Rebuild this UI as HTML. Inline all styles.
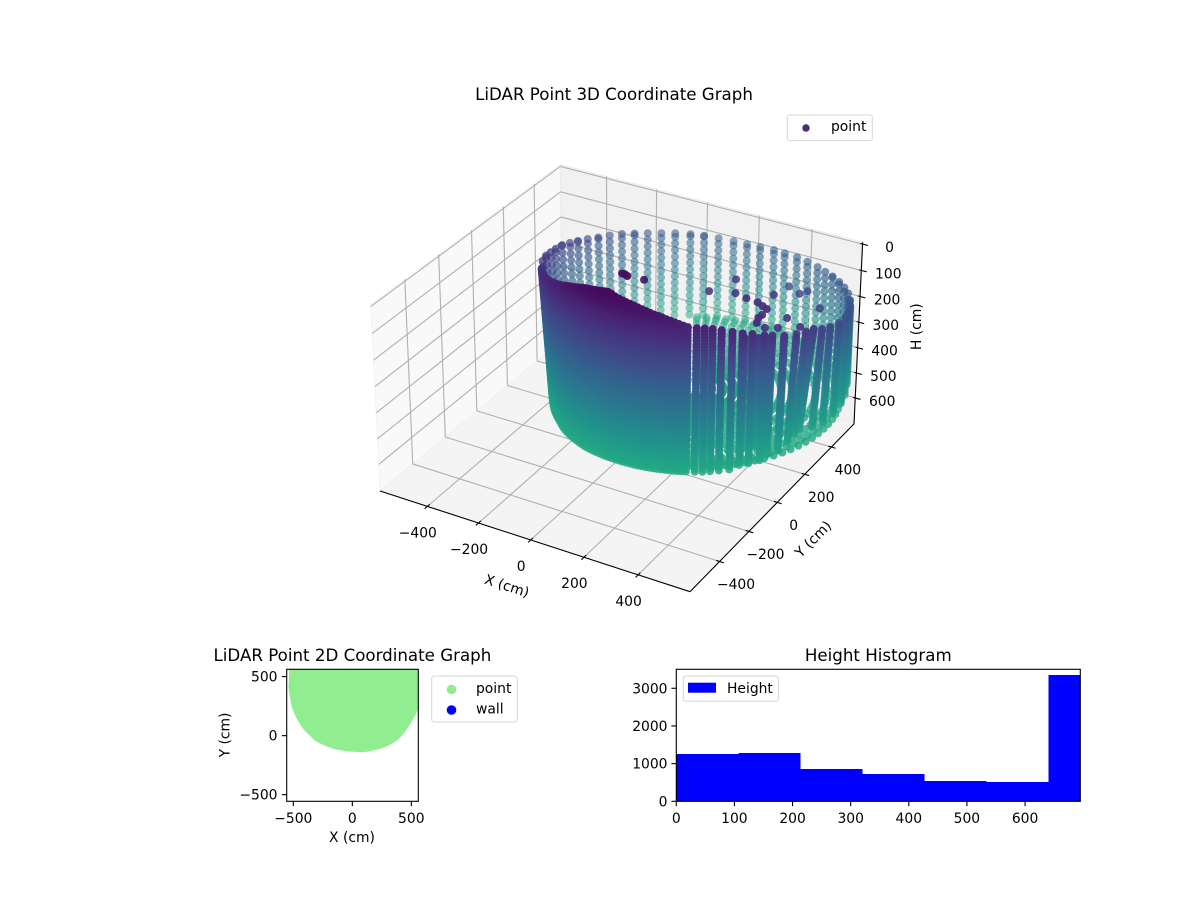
<!DOCTYPE html>
<html lang="en">
<head>
<meta charset="utf-8">
<title>LiDAR Point Graphs</title>
<style>
html,body{margin:0;padding:0;background:#fff;}
svg{display:block;}
text{font-family:"DejaVu Sans","Liberation Sans",sans-serif;fill:#000;}
</style>
</head>
<body>
<svg id="figure" xmlns="http://www.w3.org/2000/svg" width="1200" height="900" viewBox="0 0 1200 900">
  <rect x="0" y="0" width="1200" height="900" fill="#ffffff"/>
  <defs>
    <clipPath id="clip2d"><rect x="286.7" y="669.3" width="131.6" height="132"/></clipPath>
    <clipPath id="clipHist"><rect x="676.3" y="669.3" width="404" height="132"/></clipPath>
  </defs>

  <g id="plot3d">
    <text x="614" y="100" font-size="16.67" text-anchor="middle">LiDAR Point 3D Coordinate Graph</text>
    <g id="panes3d"></g>
    <g id="grid3d"></g>
    <g id="axes3d"></g>
    <g id="scatter3d"></g>
    <text transform="translate(507,585.7) rotate(18)" font-size="13.89" text-anchor="middle" dy=".35em">X (cm)</text>
    <text transform="translate(813,539) rotate(-45)" font-size="13.89" text-anchor="middle" dy=".35em">Y (cm)</text>
    <text transform="translate(916,326.7) rotate(-90)" font-size="13.89" text-anchor="middle" dy=".35em">H (cm)</text>
    <g>
      <rect x="787.3" y="115" width="85" height="25.6" rx="2.5" fill="#ffffff" stroke="#d5d5d5" stroke-width="1"/>
      <circle cx="806" cy="128" r="3.7" fill="#4b2a7d"/>
      <text x="831" y="131" font-size="13.89">point</text>
    </g>
  </g>

  <g id="plot2d">
    <text x="352.4" y="661" font-size="16.67" text-anchor="middle">LiDAR Point 2D Coordinate Graph</text>
    <g id="marks2d" clip-path="url(#clip2d)"></g>
    <rect x="286.7" y="669.3" width="131.6" height="132" fill="none" stroke="#000" stroke-width="1.1"/>
    <g id="ticks2d"></g>
    <text x="352" y="842" font-size="13.89" text-anchor="middle">X (cm)</text>
    <text transform="translate(224.5,735) rotate(-90)" font-size="13.89" text-anchor="middle" dy=".35em">Y (cm)</text>
    <g>
      <rect x="431.7" y="676" width="85.6" height="46" rx="2.5" fill="#ffffff" stroke="#d5d5d5" stroke-width="1"/>
      <circle cx="451.5" cy="689.5" r="4.8" fill="#90ee90"/>
      <text x="476" y="693" font-size="13.89">point</text>
      <circle cx="451.5" cy="710" r="4.8" fill="#0000ff"/>
      <text x="476" y="713.5" font-size="13.89">wall</text>
    </g>
  </g>

  <g id="plotHist">
    <text x="878.3" y="661" font-size="16.67" text-anchor="middle">Height Histogram</text>
    <g id="barsHist" clip-path="url(#clipHist)"></g>
    <rect x="676.3" y="669.3" width="404" height="132" fill="none" stroke="#000" stroke-width="1.1"/>
    <g id="ticksHist"></g>
    <g>
      <rect x="683.3" y="676" width="95" height="25.3" rx="2.5" fill="#ffffff" stroke="#d5d5d5" stroke-width="1"/>
      <rect x="688" y="682.7" width="28" height="10" fill="#0000ff"/>
      <text x="727" y="693" font-size="13.89">Height</text>
    </g>
  </g>
</svg>

<script>
// ---------- 3D chart data ----------
const xTicks3d = [-400, -200, 0, 200, 400];
const yTicks3d = [-400, -200, 0, 200, 400];
const hTicks3d = [0, 100, 200, 300, 400, 500, 600];

// far side of the wall: scan azimuth (deg) and first height seen in the column
const backAzimuth = [205,198,192,187,181.7,176,171,165.5,160,154.5,149,143.5,138,132.5,127,121,115.7,110,104,98.5,93,87,82,76,70.5,64.5,59.5,54,48,42,36];
const backTopH = [168,180,195,205,214,228,240,252,264,272,280,290,298,305,310,316,322,328,334,338,338,336,335,332,330,328,326,320,314,307,300];
const backLean = [-30,-30,-30,-30,-28,-24,-20,-16,-12,-8,-4,0,0,0,0,0,0,0,0,0,0,0,0,0,0,0,0,0,0,0,0];

// near side, left part: densely sampled columns
const denseAzimuth = [210,211.5,213,214.5,216,217.5,219,220.5,222,223.5,225,226.5,228,229.5,231,232.5,234,235.5,237,238.5,240,241.5,243,244.5,246,247.5,249,250.5,252,253.5,255,256.5,258,259.5,261,262.5,264,265.5,267,268.5,270,271.5,273,274.5,276,277.5,279,280.5,282,283.5,285,286.5,288,289.5,291,292.5,294];
const denseTopH = [170,166,162,159,155,152,148,145,141,138,134,131,127,123,119,115,110,106,101,97,92,87,81,76,71,67,62,57,53,48,44,41,38,35,32,29,26,24,27,33,37,40,43,46,49,53,57,61,65,69,72,76,81,85,90,95,100];
// how far (cm) each dense column's range shifts from its top to the floor
const denseLean = [-30,-30,-30,-30,-30,-29,-28,-27,-26,-25,-24,-23,-22,-21,-20,-19,-18,-16,-14,-12,-10,-9,-8,-7,-6,-5,-4,-3,-2,-1,0,0,0,0,0,0,0,0,0,0,0,0,0,0,0,0,0,0,0,0,0,0,0,0,0,0,0];

// near side, right part: separated columns
const frontAzimuth = [295.6,298.8,301.6,304.4,307.6,311.5,315.2,318.9,323.6,326.8,331.8,337.3,342,346,351,356.5,4,12,18,24,30];
const frontTopH = [105,108,109,112,118,128,138,146,160,168,182,192,198,203,222,238,256,271,282,290,296];
const frontBottomH = [660,660,660,660,660,660,648,648,648,636,636,624,612,612,612,612,612,612,612,600,600];
const frontLean = [0,0,0,-2,-3,-4,-5,-6,-10,-14,-18,-28,-40,-48,-25,-14,-8,-4,-2,0,0];

// extra columns standing just inside the right wall
const innerAzimuth = [317,323,329,336];
const innerRange = [500,494,488,478];
const innerTopH = [172,186,205,222];

const fineLevels = [0,12,24,36,48,60,72,84,96,108,120,132,144,156,168,180,192,204,216,228,240,252,264,276,288,300,312,324,336,348,360,372,384,396,408,420,432,444,456,468,480,492,504,516,528,540,552,564,576,588,600,612,624,636,648,660];
const coarseLevels = [0,27,54,81,108,135,162,189,216,243,270,297,324,351,378,405,432,459,486,513,540,567,594,621,648];

// ground returns inside the room
const floorRadius = [60,100,140,180,220,260,300,340,380,420,460,490,510];
const floorAzimuth = [270,274,278,282,286,290,294,298,302,306,310,314,318,322,326,330,334,338,342,346,350,354,358,2,6,10,14,18,22,26,30,34,38,42,46,50,54,58,62,66,70,74,78,82,86,90,94,98,102,106,110,114,118];
const floorH = 650;

// isolated returns in mid air
const sparseX = [-36,-25,-14,22,204,165,264,312,357,349,321,391,391,384,405,410,409,420,461,465,525,428,503];
const sparseY = [55,55,52,100,407,289,290,277,271,405,575,515,576,256,245,202,178,146,285,211,253,190,444];
const sparseH = [36,36,38,65,159,159,140,140,140,178,234,215,234,140,140,140,140,140,178,178,178,178,206];

// ---------- 2D chart data ----------
const xTicks2d = [-500, 0, 500];
const yTicks2d = [-500, 0, 500];
const outlineX = [-528,-532,-537,-532,-523,-513,-500,-481,-458,-437,-415,-388,-359,-337,-316,-282,-246,-204,-161,-125,-90,-55,-20,37,93,130,164,200,234,270,305,342,376,405,432,462,489,511,531,546,559,600,600,-528];
const outlineY = [600,500,415,365,316,265,217,173,133,97,62,32,6,-17,-37,-57,-73,-92,-107,-115,-121,-127,-130,-134,-136,-131,-124,-116,-107,-94,-79,-60,-37,-10,20,62,105,142,175,210,246,320,600,600];

// ---------- Histogram data ----------
const binEdges = [0,106.7,213.4,320,426.8,533.5,640.2,747];
const binCounts = [1257,1283,858,726,540,513,3354];
const xTicksHist = [0,100,200,300,400,500,600];
const yTicksHist = [0,1000,2000,3000];

// ---------- viridis colour stops ----------
const viridisStops = ['#440154','#482475','#414487','#355f8d','#2a788e','#21918c','#22a884','#44bf70','#7ad151','#bddf26','#fde725'];

// ---------- helpers ----------
const NS = 'http://www.w3.org/2000/svg';
function make(tag, attrs, parent) {
  const el = document.createElementNS(NS, tag);
  for (const k in attrs) el.setAttribute(k, attrs[k]);
  parent.appendChild(el);
  return el;
}
function fmt(v) { return String(v).replace('-', '\u2212'); }
function hexToRgb(h) { return [parseInt(h.slice(1,3),16), parseInt(h.slice(3,5),16), parseInt(h.slice(5,7),16)]; }
function viridis(t) {
  const c = Math.max(0, Math.min(1, t)) * (viridisStops.length - 1);
  const i = Math.min(viridisStops.length - 2, Math.floor(c));
  const a = hexToRgb(viridisStops[i]), b = hexToRgb(viridisStops[i + 1]), f = c - i;
  return 'rgb(' + Math.round(a[0]+(b[0]-a[0])*f) + ',' + Math.round(a[1]+(b[1]-a[1])*f) + ',' + Math.round(a[2]+(b[2]-a[2])*f) + ')';
}

// ---------- 3D axis functions ----------
const xLim3d = [-588, 588], yLim3d = [-595, 575], hLim3d = [-7, 705];
const halfXY = 0.62, halfH = 0.372;
const elev = 30 * Math.PI / 180, azim = -60 * Math.PI / 180, viewDist = 10;
const camW = [Math.cos(elev)*Math.cos(azim), Math.cos(elev)*Math.sin(azim), Math.sin(elev)];
const camU = [-Math.sin(azim), Math.cos(azim), 0];
const camV = [-Math.sin(elev)*Math.cos(azim), -Math.sin(elev)*Math.sin(azim), Math.cos(elev)];
function project(x, y, h) {
  const a = -halfXY + 2*halfXY*(x - xLim3d[0])/(xLim3d[1]-xLim3d[0]);
  const b = -halfXY + 2*halfXY*(y - yLim3d[0])/(yLim3d[1]-yLim3d[0]);
  const c = halfH - 2*halfH*(h - hLim3d[0])/(hLim3d[1]-hLim3d[0]);
  const xv = camU[0]*a + camU[1]*b;
  const yv = camV[0]*a + camV[1]*b + camV[2]*c;
  const zv = camW[0]*a + camW[1]*b + camW[2]*c;
  const d = viewDist - zv;
  return [621.6 + 2849*xv/d, 366.5 - 2855*yv/d, zv];
}
const ringX = 40, ringY = 430, ringRange = 527;
function polarX(az, r) { return ringX + r*Math.cos(az*Math.PI/180); }
function polarY(az, r) { return ringY + r*Math.sin(az*Math.PI/180); }

function polyPoints(list) { return list.map(p => { const q = project(p[0],p[1],p[2]); return q[0].toFixed(2)+','+q[1].toFixed(2); }).join(' '); }
function line3d(parent, a, b, stroke, width) {
  const p = project(a[0],a[1],a[2]), q = project(b[0],b[1],b[2]);
  return make('line', {x1:p[0].toFixed(2), y1:p[1].toFixed(2), x2:q[0].toFixed(2), y2:q[1].toFixed(2), stroke:stroke, 'stroke-width':width}, parent);
}

// panes
const panes = document.getElementById('panes3d');
const [x0, x1] = xLim3d, [y0, y1] = yLim3d, [hTop, hBot] = hLim3d;
const paneLeft = make('polygon', {points: polyPoints([[x0,y0,hBot],[x0,y1,hBot],[x0,y1,hTop],[x0,y0,hTop]]), fill:'#f9f9f9', stroke:'#f3f3f3', 'stroke-width':1}, panes);


const paneBack = make('polygon', {points: polyPoints([[x0,y1,hBot],[x1,y1,hBot],[x1,y1,hTop],[x0,y1,hTop]]), fill:'#f1f1f1', stroke:'#ebebeb', 'stroke-width':1}, panes);


const paneFloor = make('polygon', {points: polyPoints([[x0,y0,hBot],[x1,y0,hBot],[x1,y1,hBot],[x0,y1,hBot]]), fill:'#f4f4f4', stroke:'#efefef', 'stroke-width':1}, panes);



// grid
const grid = document.getElementById('grid3d');
const gridColor = '#b0b0b0';
xTicks3d.forEach(v => {
  const a = line3d(grid, [v,y0,hBot], [v,y1,hBot], gridColor, 1.1);
  
  
  const b = line3d(grid, [v,y1,hBot], [v,y1,hTop], gridColor, 1.1);
  
  
});
yTicks3d.forEach(v => {
  const a = line3d(grid, [x0,v,hBot], [x1,v,hBot], gridColor, 1.1);
  
  
  const b = line3d(grid, [x0,v,hBot], [x0,v,hTop], gridColor, 1.1);
  
  
});
hTicks3d.forEach(v => {
  const a = line3d(grid, [x0,y0,v], [x0,y1,v], gridColor, 1.1);
  
  
  const b = line3d(grid, [x0,y1,v], [x1,y1,v], gridColor, 1.1);
  
  
});

// axis lines, ticks and labels
const axes3d = document.getElementById('axes3d');
const axisX = line3d(axes3d, [x0,y0,hBot], [x1,y0,hBot], '#000', 1.1);


const axisY = line3d(axes3d, [x1,y0,hBot], [x1,y1,hBot], '#000', 1.1);


const axisH = line3d(axes3d, [x1,y1,hTop], [x1,y1,hBot], '#000', 1.1);



function label(parent, x, y, str, anchor) {
  const t = make('text', {x:x.toFixed(1), y:y.toFixed(1), 'font-size':'13.89', 'text-anchor':anchor}, parent);
  t.textContent = str;
  return t;
}
xTicks3d.forEach(v => {
  const m = line3d(axes3d, [v,y0+14,hBot], [v,y0-16,hBot], '#000', 1.1);
  
  
  const p = project(v,y0,hBot);
  const t = label(axes3d, p[0]-9.5, p[1]+31, fmt(v), 'middle');
  
  
});
yTicks3d.forEach(v => {
  const m = line3d(axes3d, [x1-12,v,hBot], [x1+16,v,hBot], '#000', 1.1);
  
  
  const p = project(x1,v,hBot);
  const t = label(axes3d, p[0]+16.5, p[1]+27.5, fmt(v), 'middle');
  
  
});
hTicks3d.forEach(v => {
  const m = line3d(axes3d, [x1-8,y1,v], [x1+20,y1,v], '#000', 1.1);
  
  
  const p = project(x1,y1,v);
  const t = label(axes3d, p[0]+27, p[1]+8, fmt(v), 'middle');
  
  
});

// collect points
const cloud = [];
function pushColumn(az, range, top, levels, bottom, lean) {
  function add(h) {
    const r = range + lean*(h - top)/(bottom - top);
    cloud.push([polarX(az, r), polarY(az, r), h]);
  }
  add(top);
  levels.forEach(h => { if (h > top && h <= bottom) add(h); });
}
backAzimuth.forEach((az, i) => pushColumn(az, ringRange, backTopH[i], coarseLevels, 650, backLean[i]));
denseAzimuth.forEach((az, i) => pushColumn(az, ringRange, denseTopH[i], fineLevels, 660, denseLean[i]));
frontAzimuth.forEach((az, i) => pushColumn(az, ringRange, frontTopH[i], fineLevels, frontBottomH[i], frontLean[i]));
innerAzimuth.forEach((az, i) => pushColumn(az, innerRange[i], innerTopH[i], fineLevels, 620, -10));
floorRadius.forEach(r => floorAzimuth.forEach(az => cloud.push([polarX(az, r), polarY(az, r), floorH])));
sparseX.forEach((x, i) => cloud.push([x, sparseY[i], sparseH[i]]));

const projected = cloud.map(p => { const q = project(p[0],p[1],p[2]); return {px:q[0], py:q[1], z:q[2], h:p[2]}; });
let zMin = Infinity, zMax = -Infinity;
projected.forEach(p => { if (p.z < zMin) zMin = p.z; if (p.z > zMax) zMax = p.z; });
projected.sort((a, b) => a.z - b.z);
const scatter = document.getElementById('scatter3d');
const frag = document.createDocumentFragment();
projected.forEach(p => {
  const alpha = 0.5 + 0.5*(p.z - zMin)/(zMax - zMin);
  const dot = document.createElementNS(NS, 'circle');
  dot.setAttribute('cx', p.px.toFixed(2));
  dot.setAttribute('cy', p.py.toFixed(2));
  dot.setAttribute('r', '4');
  dot.setAttribute('fill', viridis(p.h/1090));
  dot.setAttribute('fill-opacity', alpha.toFixed(2));
  
  
  frag.appendChild(dot);
});
scatter.appendChild(frag);

// ---------- 2D chart ----------
const xLim2d = [-556, 559], yLim2d = [-556, 562];
const left2d = 286.7, right2d = 418.3, top2d = 669.3, bottom2d = 801.3;
function sx2d(v) { return left2d + (v - xLim2d[0])/(xLim2d[1]-xLim2d[0])*(right2d-left2d); }
function sy2d(v) { return bottom2d - (v - yLim2d[0])/(yLim2d[1]-yLim2d[0])*(bottom2d-top2d); }
const marks2d = document.getElementById('marks2d');
const disc = make('polygon', {points: outlineX.map((x,i) => sx2d(x).toFixed(2)+','+sy2d(outlineY[i]).toFixed(2)).join(' '), fill:'#90ee90', stroke:'#90ee90', 'stroke-width':1, 'stroke-linejoin':'round'}, marks2d);


const ticks2d = document.getElementById('ticks2d');
xTicks2d.forEach(v => {
  const x = sx2d(v);
  const m = make('line', {x1:x, y1:bottom2d, x2:x, y2:bottom2d+4.9, stroke:'#000', 'stroke-width':1.1}, ticks2d);
  
  
  const t = label(ticks2d, x, 823, fmt(v), 'middle');
  
  
});
yTicks2d.forEach(v => {
  const y = sy2d(v);
  const m = make('line', {x1:left2d-4.9, y1:y, x2:left2d, y2:y, stroke:'#000', 'stroke-width':1.1}, ticks2d);
  
  
  const t = label(ticks2d, 277.5, y+5, fmt(v), 'end');
  
  
});

// ---------- Histogram ----------
const xLimHist = [0, 695], yLimHist = [0, 3504];
const leftH = 676.3, rightH = 1080.3, topH = 669.3, bottomH = 801.3;
function sxHist(v) { return leftH + (v - xLimHist[0])/(xLimHist[1]-xLimHist[0])*(rightH-leftH); }
function syHist(v) { return bottomH - (v - yLimHist[0])/(yLimHist[1]-yLimHist[0])*(bottomH-topH); }
const barsHist = document.getElementById('barsHist');
binCounts.forEach((c, i) => {
  const a = sxHist(binEdges[i]), b = sxHist(binEdges[i+1]);
  const bar = make('rect', {x:a.toFixed(2), y:syHist(c).toFixed(2), width:(b-a).toFixed(2), height:(bottomH-syHist(c)).toFixed(2), fill:'#0000ff', 'shape-rendering':'crispEdges'}, barsHist);
  
  
});
const ticksHist = document.getElementById('ticksHist');
xTicksHist.forEach(v => {
  const x = sxHist(v);
  const m = make('line', {x1:x, y1:bottomH, x2:x, y2:bottomH+4.9, stroke:'#000', 'stroke-width':1.1}, ticksHist);
  
  
  const t = label(ticksHist, x, 823, fmt(v), 'middle');
  
  
});
yTicksHist.forEach(v => {
  const y = syHist(v);
  const m = make('line', {x1:leftH-4.9, y1:y, x2:leftH, y2:y, stroke:'#000', 'stroke-width':1.1}, ticksHist);
  
  
  const t = label(ticksHist, 667.5, y+5, fmt(v), 'end');
  
  
});
</script>
</body>
</html>
